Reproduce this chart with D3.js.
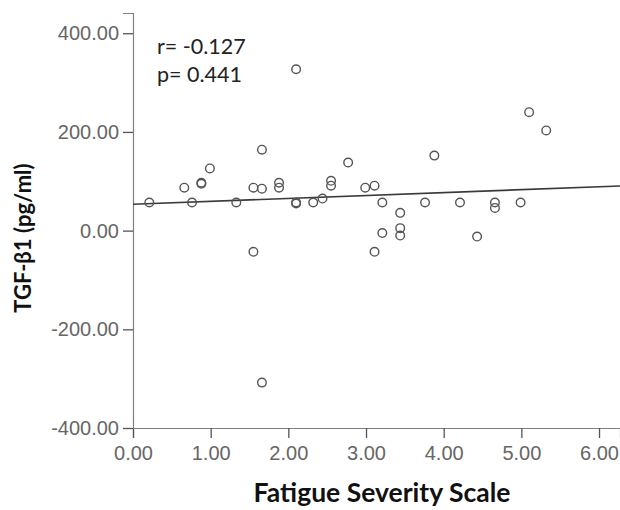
<!DOCTYPE html>
<html>
<head>
<meta charset="utf-8">
<script src="https://cdn.jsdelivr.net/npm/d3@7"></script>
<style>
  html, body { margin: 0; padding: 0; background: #fff; }
  svg { display: block; }
</style>
</head>
<body>
<svg id="chart" width="620" height="510"></svg>
<script>
// ---- data ----
const fatigue = [0.21, 0.66, 0.76, 0.88, 0.88, 0.99, 1.33, 1.55, 1.55, 1.66, 1.66, 1.66, 1.88, 1.88,
                 2.10, 2.10, 2.10, 2.32, 2.44, 2.55, 2.55, 2.77, 2.99, 3.11, 3.11, 3.21, 3.21,
                 3.44, 3.44, 3.44, 3.76, 3.88, 4.21, 4.43, 4.66, 4.66, 4.99, 5.10, 5.32];
const tgf = [57, 87, 57, 95, 97, 126, 57, 87, -43, 85, 164, -308, 97, 87,
             55, 57, 327, 57, 65, 101, 91, 138, 87, 91, -43, 57, -5,
             36, 5, -10, 57, 152, 57, -12, 57, 46, 57, 240, 203];
const xTicks = [0, 1, 2, 3, 4, 5, 6];
const yTicks = [-400, -200, 0, 200, 400];
const fitIntercept = 53.5;
const fitSlope = 5.9;
const statLines = ["r= -0.127", "p= 0.441"];
const xTitle = "Fatigue Severity Scale";
const yTitle = "TGF-\u03b21 (pg/ml)";

// ---- drawing ----
const svg = d3.select("#chart");
const x = d3.scaleLinear().domain([0, 6.27]).range([133, 620]);
const y = d3.scaleLinear().domain([-400, 441]).range([428, 13]);
const fmt = v => d3.format(".2f")(v).replace("\u2212", "-");
const axisColor = "#808080";
const labelColor = "#666";

const gx = svg.append("g").attr("transform", `translate(0,${y(-400)})`)
  .call(d3.axisBottom(x).tickValues(xTicks).tickFormat(fmt).tickSizeOuter(0).tickSize(10).tickPadding(8));
const gy = svg.append("g").attr("transform", `translate(${x(0)},0)`)
  .call(d3.axisLeft(y).tickValues(yTicks).tickFormat(fmt).tickSizeOuter(0).tickSize(10).tickPadding(4));

[gx, gy].forEach(g => {
  g.select(".domain").attr("stroke", axisColor).attr("stroke-width", 1.2);
  g.selectAll(".tick line").attr("stroke", "#555").attr("stroke-width", 1.3);
  g.selectAll(".tick text").attr("fill", labelColor)
    .style("font-family", "'Liberation Sans', Arial, sans-serif").style("font-size", "20px");
});

// regression line
svg.append("line")
  .attr("x1", x(0)).attr("y1", y(fitIntercept))
  .attr("x2", x(6.27)).attr("y2", y(fitIntercept + fitSlope * 6.27))
  .attr("stroke", "#3a3a3a").attr("stroke-width", 1.6);

// points
svg.append("g").selectAll("circle")
  .data(fatigue.map((f, i) => [f, tgf[i]]))
  .join("circle")
  .attr("cx", d => x(d[0]))
  .attr("cy", d => y(d[1]))
  .attr("r", 4.3)
  .attr("fill", "none")
  .attr("stroke", "#555")
  .attr("stroke-width", 1.4);

// stats annotation
svg.append("g").selectAll("text")
  .data(statLines)
  .join("text")
  .attr("x", 157)
  .attr("y", (d, i) => 54 + i * 28)
  .attr("fill", "#222")
  .style("font-family", "Lato, 'Open Sans', sans-serif")
  .style("font-size", "21.5px")
  .text(d => d);

// axis titles
svg.append("text")
  .attr("x", 382).attr("y", 502)
  .attr("text-anchor", "middle")
  .attr("fill", "#111")
  .style("font-family", "Lato, 'Open Sans', sans-serif")
  .style("font-weight", "bold")
  .style("font-size", "26.5px")
  .text(xTitle);

svg.append("text")
  .attr("transform", "translate(31,238) rotate(-90)")
  .attr("text-anchor", "middle")
  .attr("fill", "#111")
  .style("font-family", "Lato, 'Open Sans', sans-serif")
  .style("font-weight", "bold")
  .style("font-size", "22px")
  .text(yTitle);
</script>
</body>
</html>
